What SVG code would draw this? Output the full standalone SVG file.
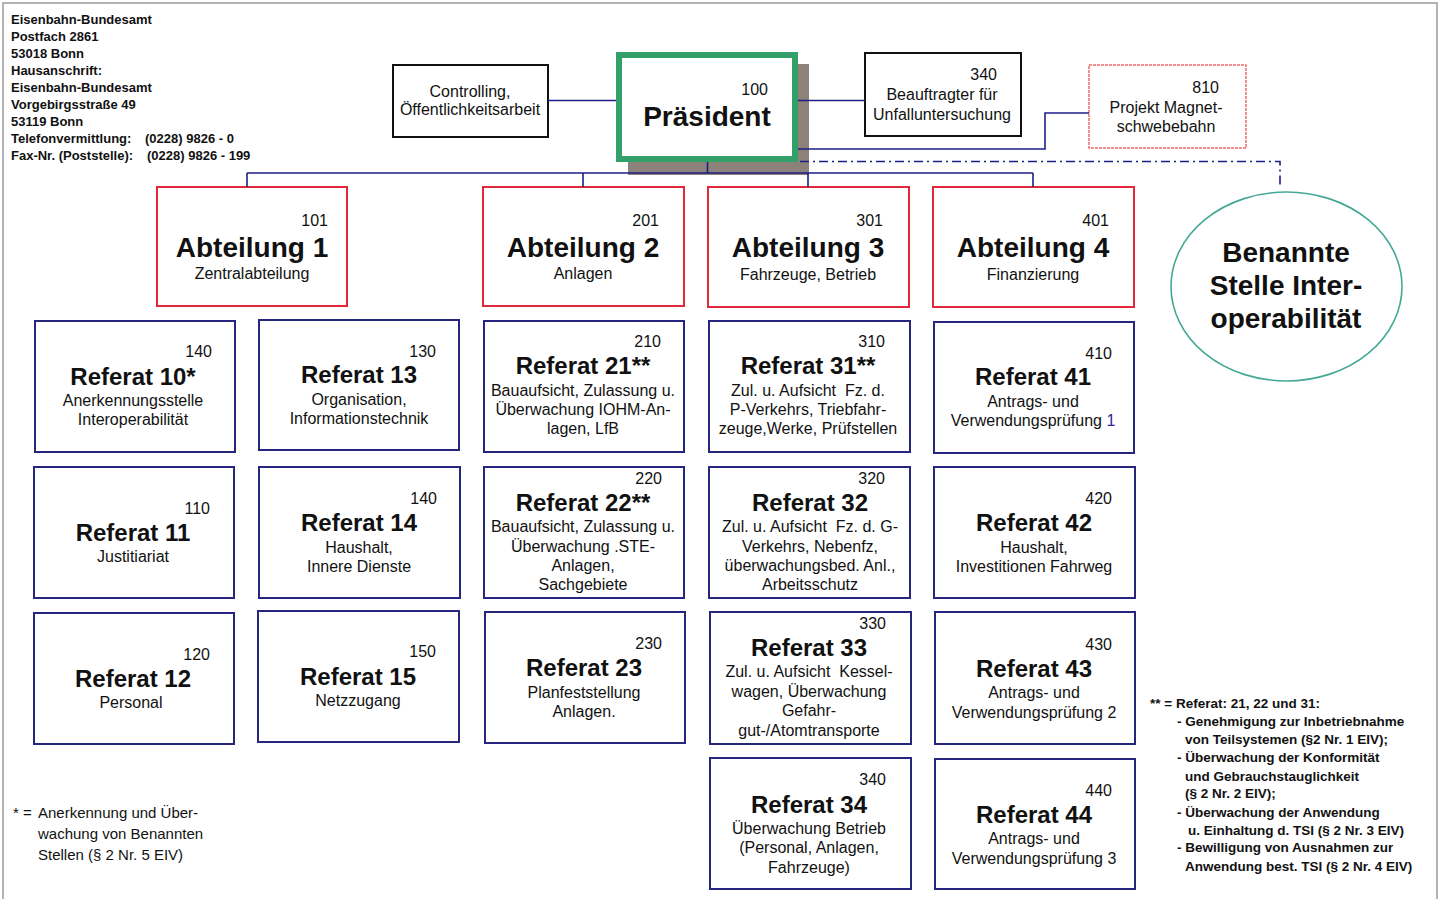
<svg xmlns="http://www.w3.org/2000/svg" width="1444" height="899" viewBox="0 0 1444 899">
<style>
text{font-family:"Liberation Sans",Arial,sans-serif;fill:#111}
.addr{font-size:13px;font-weight:bold}
.fn{font-size:13.5px;font-weight:bold}
.fnl{font-size:15px}
.n{font-size:16px;text-anchor:end}
.s{font-size:16px;text-anchor:middle}
.t24{font-size:24px;font-weight:bold;text-anchor:middle}
.t28{font-size:28px;font-weight:bold;text-anchor:middle}
.ref{fill:#fff;stroke:#26267e;stroke-width:2}
.abt{fill:#fff;stroke:#e4283c;stroke-width:2}
.blk{fill:#fff;stroke:#111;stroke-width:2}
.con{fill:none;stroke:#1e1e88;stroke-width:1.6}
</style>
<rect x="0" y="0" width="1444" height="899" fill="#fff"/>
<path d="M3,899 V3 H1437 V899" fill="none" stroke="#9a9a9a" stroke-width="1.5"/>

<g id="address">
<text class="addr" x="11" y="24">Eisenbahn-Bundesamt</text>
<text class="addr" x="11" y="41">Postfach 2861</text>
<text class="addr" x="11" y="58">53018 Bonn</text>
<text class="addr" x="11" y="75">Hausanschrift:</text>
<text class="addr" x="11" y="92">Eisenbahn-Bundesamt</text>
<text class="addr" x="11" y="109">Vorgebirgsstraße 49</text>
<text class="addr" x="11" y="126">53119 Bonn</text>
<text class="addr" x="11" y="143">Telefonvermittlung:<tspan x="145">(0228) 9826 - 0</tspan></text>
<text class="addr" x="11" y="160">Fax-Nr. (Poststelle):<tspan x="147">(0228) 9826 - 199</tspan></text>
</g>

<g id="controlling">
<rect class="blk" x="393" y="65" width="155" height="72"/>
<text class="s" x="470" y="97">Controlling,</text>
<text class="s" x="470" y="115">Öffentlichkeitsarbeit</text>
</g>

<g id="praesident">
<rect x="628" y="64" width="181" height="111" fill="#8c8279"/>
<rect x="619" y="55" width="176" height="104" fill="#fff" stroke="#33a06a" stroke-width="6"/>
<text class="n" x="768" y="95">100</text>
<text class="t28" x="707" y="126">Präsident</text>
</g>

<g id="beauftragter">
<rect class="blk" x="865" y="53" width="156" height="83"/>
<text class="n" x="997" y="80">340</text>
<text class="s" x="942" y="100">Beauftragter für</text>
<text class="s" x="942" y="120">Unfalluntersuchung</text>
</g>

<g id="magnetschwebebahn">
<rect x="1089" y="65" width="157" height="83" fill="#fff" stroke="#ee6a6a" stroke-width="1.5" stroke-dasharray="3,1"/>
<text class="n" x="1219" y="93">810</text>
<text class="s" x="1166" y="113">Projekt Magnet-</text>
<text class="s" x="1166" y="132">schwebebahn</text>
</g>

<g id="benannte-stelle">
<ellipse cx="1286.5" cy="286.5" rx="115.5" ry="94.5" fill="#fff" stroke="#45a896" stroke-width="1.6"/>
<text class="t28" x="1286" y="262">Benannte</text>
<text class="t28" x="1286" y="295">Stelle Inter-</text>
<text class="t28" x="1286" y="328">operabilität</text>
</g>

<g id="abt1">
<rect class="abt" x="157" y="187" width="190" height="119"/>
<text class="n" x="328" y="226">101</text>
<text class="t28" x="252" y="257">Abteilung 1</text>
<text class="s" x="252" y="279">Zentralabteilung</text>
</g>
<g id="abt2">
<rect class="abt" x="483" y="187" width="201" height="119"/>
<text class="n" x="659" y="226">201</text>
<text class="t28" x="583" y="257">Abteilung 2</text>
<text class="s" x="583" y="279">Anlagen</text>
</g>
<g id="abt3">
<rect class="abt" x="708" y="187" width="201" height="120"/>
<text class="n" x="883" y="226">301</text>
<text class="t28" x="808" y="257">Abteilung 3</text>
<text class="s" x="808" y="280">Fahrzeuge, Betrieb</text>
</g>
<g id="abt4">
<rect class="abt" x="933" y="187" width="201" height="120"/>
<text class="n" x="1109" y="226">401</text>
<text class="t28" x="1033" y="257">Abteilung 4</text>
<text class="s" x="1033" y="280">Finanzierung</text>
</g>

<g id="ref10">
<rect class="ref" x="35" y="321" width="200" height="131"/>
<text class="n" x="212" y="357">140</text>
<text class="t24" x="133" y="385">Referat 10*</text>
<text class="s" x="133" y="406">Anerkennungsstelle</text>
<text class="s" x="133" y="425">Interoperabilität</text>
</g>
<g id="ref11">
<rect class="ref" x="34" y="467" width="200" height="131"/>
<text class="n" x="210" y="514">110</text>
<text class="t24" x="133" y="541">Referat 11</text>
<text class="s" x="133" y="562">Justitiariat</text>
</g>
<g id="ref12">
<rect class="ref" x="34" y="613" width="200" height="131"/>
<text class="n" x="210" y="660">120</text>
<text class="t24" x="133" y="687">Referat 12</text>
<text class="s" x="131" y="708">Personal</text>
</g>

<g id="ref13">
<rect class="ref" x="259" y="320" width="200" height="130"/>
<text class="n" x="436" y="357">130</text>
<text class="t24" x="359" y="383">Referat 13</text>
<text class="s" x="359" y="405">Organisation,</text>
<text class="s" x="359" y="424">Informationstechnik</text>
</g>
<g id="ref14">
<rect class="ref" x="259" y="467" width="201" height="131"/>
<text class="n" x="437" y="504">140</text>
<text class="t24" x="359" y="531">Referat 14</text>
<text class="s" x="359" y="553">Haushalt,</text>
<text class="s" x="359" y="572">Innere Dienste</text>
</g>
<g id="ref15">
<rect class="ref" x="258" y="611" width="201" height="131"/>
<text class="n" x="436" y="657">150</text>
<text class="t24" x="358" y="685">Referat 15</text>
<text class="s" x="358" y="706">Netzzugang</text>
</g>

<g id="ref21">
<rect class="ref" x="484" y="321" width="200" height="131"/>
<text class="n" x="661" y="347">210</text>
<text class="t24" x="583" y="374">Referat 21**</text>
<text class="s" x="583" y="396">Bauaufsicht, Zulassung u.</text>
<text class="s" x="583" y="415">Überwachung IOHM-An-</text>
<text class="s" x="583" y="434">lagen, LfB</text>
</g>
<g id="ref22">
<rect class="ref" x="484" y="467" width="200" height="131"/>
<text class="n" x="662" y="484">220</text>
<text class="t24" x="583" y="511">Referat 22**</text>
<text class="s" x="583" y="532">Bauaufsicht, Zulassung u.</text>
<text class="s" x="583" y="552">Überwachung .STE-</text>
<text class="s" x="583" y="571">Anlagen,</text>
<text class="s" x="583" y="590">Sachgebiete</text>
</g>
<g id="ref23">
<rect class="ref" x="485" y="612" width="200" height="131"/>
<text class="n" x="662" y="649">230</text>
<text class="t24" x="584" y="676">Referat 23</text>
<text class="s" x="584" y="698">Planfeststellung</text>
<text class="s" x="584" y="717">Anlagen.</text>
</g>

<g id="ref31">
<rect class="ref" x="709" y="321" width="201" height="131"/>
<text class="n" x="885" y="347">310</text>
<text class="t24" x="808" y="374">Referat 31**</text>
<text class="s" x="808" y="396" xml:space="preserve">Zul. u. Aufsicht  Fz. d.</text>
<text class="s" x="808" y="415">P-Verkehrs, Triebfahr-</text>
<text class="s" x="808" y="434">zeuge,Werke, Prüfstellen</text>
</g>
<g id="ref32">
<rect class="ref" x="709" y="467" width="201" height="131"/>
<text class="n" x="885" y="484">320</text>
<text class="t24" x="810" y="511">Referat 32</text>
<text class="s" x="810" y="532" xml:space="preserve">Zul. u. Aufsicht  Fz. d. G-</text>
<text class="s" x="810" y="552">Verkehrs, Nebenfz,</text>
<text class="s" x="810" y="571">überwachungsbed. Anl.,</text>
<text class="s" x="810" y="590">Arbeitsschutz</text>
</g>
<g id="ref33">
<rect class="ref" x="710" y="612" width="201" height="132"/>
<text class="n" x="886" y="629">330</text>
<text class="t24" x="809" y="656">Referat 33</text>
<text class="s" x="809" y="677" xml:space="preserve">Zul. u. Aufsicht  Kessel-</text>
<text class="s" x="809" y="697">wagen, Überwachung</text>
<text class="s" x="809" y="716">Gefahr-</text>
<text class="s" x="809" y="736">gut-/Atomtransporte</text>
</g>
<g id="ref34">
<rect class="ref" x="710" y="758" width="201" height="131"/>
<text class="n" x="886" y="785">340</text>
<text class="t24" x="809" y="813">Referat 34</text>
<text class="s" x="809" y="834">Überwachung Betrieb</text>
<text class="s" x="809" y="853">(Personal, Anlagen,</text>
<text class="s" x="809" y="873">Fahrzeuge)</text>
</g>

<g id="ref41">
<rect class="ref" x="934" y="322" width="200" height="131"/>
<text class="n" x="1112" y="359">410</text>
<text class="t24" x="1033" y="385">Referat 41</text>
<text class="s" x="1033" y="407">Antrags- und</text>
<text class="s" x="1033" y="426">Verwendungsprüfung <tspan fill="#2a2a9a">1</tspan></text>
</g>
<g id="ref42">
<rect class="ref" x="934" y="467" width="201" height="131"/>
<text class="n" x="1112" y="504">420</text>
<text class="t24" x="1034" y="531">Referat 42</text>
<text class="s" x="1034" y="553">Haushalt,</text>
<text class="s" x="1034" y="572">Investitionen Fahrweg</text>
</g>
<g id="ref43">
<rect class="ref" x="935" y="612" width="200" height="132"/>
<text class="n" x="1112" y="650">430</text>
<text class="t24" x="1034" y="677">Referat 43</text>
<text class="s" x="1034" y="698">Antrags- und</text>
<text class="s" x="1034" y="718">Verwendungsprüfung 2</text>
</g>
<g id="ref44">
<rect class="ref" x="935" y="759" width="200" height="130"/>
<text class="n" x="1112" y="796">440</text>
<text class="t24" x="1034" y="823">Referat 44</text>
<text class="s" x="1034" y="844">Antrags- und</text>
<text class="s" x="1034" y="864">Verwendungsprüfung 3</text>
</g>

<g id="footnote-left">
<text class="fnl" x="13" y="818">*</text>
<text class="fnl" x="23" y="818">=</text>
<text class="fnl" x="38" y="818">Anerkennung und Über-</text>
<text class="fnl" x="38" y="839">wachung von Benannten</text>
<text class="fnl" x="38" y="860">Stellen (§ 2 Nr. 5 EIV)</text>
</g>

<g id="footnote-right">
<text class="fn" x="1150" y="708">** = Referat: 21, 22 und 31:</text>
<text class="fn" x="1177" y="726">- Genehmigung zur Inbetriebnahme</text>
<text class="fn" x="1185" y="744">von Teilsystemen (§2 Nr. 1 EIV);</text>
<text class="fn" x="1177" y="762">- Überwachung der Konformität</text>
<text class="fn" x="1185" y="781">und Gebrauchstauglichkeit</text>
<text class="fn" x="1185" y="798">(§ 2 Nr. 2 EIV);</text>
<text class="fn" x="1177" y="817">- Überwachung der Anwendung</text>
<text class="fn" x="1188" y="835">u. Einhaltung d. TSI (§ 2 Nr. 3 EIV)</text>
<text class="fn" x="1177" y="852">- Bewilligung von Ausnahmen zur</text>
<text class="fn" x="1185" y="871">Anwendung best. TSI (§ 2 Nr. 4 EIV)</text>
</g>

<g id="connectors">
<path class="con" d="M548,100.5 H616"/>
<path class="con" d="M798,100.5 H865"/>
<path class="con" d="M798,149 H1045 V113 H1089"/>
<path class="con" d="M800,161.5 H1280 V186" stroke-dasharray="9,4,2,4"/>
<path class="con" d="M707.5,162 V173"/>
<path class="con" d="M247,173 H1033"/>
<path class="con" d="M247,173 V187 M583,173 V187 M808,173 V187 M1033,173 V187"/>
</g>
</svg>
